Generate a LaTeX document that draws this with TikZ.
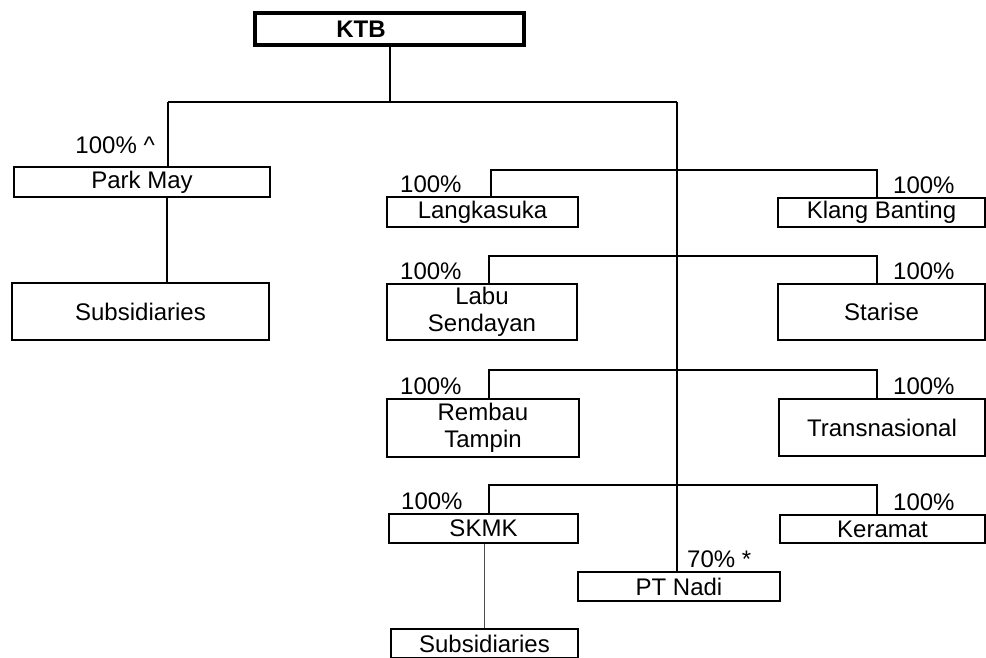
\documentclass[tikz,border=0pt]{standalone}
\usepackage{fontspec}
\setmainfont{Liberation Sans}
\begin{document}
\begin{tikzpicture}[x=1pt,y=-1pt,
  every node/.style={inner sep=0pt, font=\fontsize{24}{27}\selectfont},
  box/.style={draw, line width=1.3pt, rectangle, align=center},
  topbox/.style={draw, line width=3.5pt, rectangle, font=\fontsize{24}{27}\selectfont\bfseries},
  pct/.style={anchor=base west},
  link/.style={line width=1.3pt},
  thinlink/.style={line width=0.8pt, black!70}]
\useasboundingbox (0,0) rectangle (986,657);

% boxes
\node[topbox, minimum width=269pt, minimum height=32pt] (ktb) at (389.5,29) {KTB\kern57pt};
\node[box, minimum width=256pt, minimum height=30pt] (park) at (142,182) {Park May};
\node[box, minimum width=257pt, minimum height=57pt] (sub1) at (140.5,311.5) {Subsidiaries};
\node[box, minimum width=191pt, minimum height=30pt] (lang) at (482.5,212) {Langkasuka};
\node[box, minimum width=207pt, minimum height=29pt] (klang) at (881.5,212.5) {Klang Banting};
\node[box, minimum width=190pt, minimum height=56pt] (labu) at (482,312) {Labu\\Sendayan};
\node[box, minimum width=207pt, minimum height=56pt] (star) at (881.5,312) {Starise};
\node[box, minimum width=192pt, minimum height=58pt] (remb) at (483,428) {Rembau\\Tampin};
\node[box, minimum width=206pt, minimum height=57pt] (trans) at (882,427.5) {Transnasional};
\node[box, minimum width=189pt, minimum height=29pt] (skmk) at (483.5,528.5) {SKMK};
\node[box, minimum width=205pt, minimum height=28pt] (ker) at (882.5,529) {Keramat};
\node[box, minimum width=202pt, minimum height=29pt] (nadi) at (679,586.5) {PT Nadi};
\node[box, minimum width=187pt, minimum height=29pt] (sub2) at (484.5,643.5) {Subsidiaries};

% percentage labels
\node[anchor=base east] (lpark) at (155,153) {100\% \^{}};
\node[pct] (llang) at (400,192) {100\%};
\node[pct] (lklang) at (893,193) {100\%};
\node[pct] (llabu) at (400,279) {100\%};
\node[pct] (lstar) at (893,279) {100\%};
\node[pct] (lremb) at (400,394) {100\%};
\node[pct] (ltrans) at (893,394) {100\%};
\node[pct] (lskmk) at (401,509) {100\%};
\node[pct] (lker) at (893,510) {100\%};
\node[pct] (lnadi) at (687,567) {70\% *};

% connectors
\coordinate (hl) at (168,102);
\coordinate (hr) at (677,102);
\coordinate (hk) at (390,102);
\draw[link] (ktb.south -| hk) -- (hk);
\draw[link] (hl) -- (hr);
\draw[link] (hl) -- (hl |- park.north);
\draw[link] ([xshift=-1pt]hl |- park.south) -- ([xshift=-1pt]hl |- sub1.north);
\draw[link] (hr) -- (hr |- nadi.north);

\coordinate (r1l) at (491,170); \coordinate (r1r) at (877,170);
\coordinate (r2l) at (489,256); \coordinate (r2r) at (877,256);
\coordinate (r3l) at (489,370); \coordinate (r3r) at (877,370);
\coordinate (r4l) at (489,485); \coordinate (r4r) at (877,485);
\draw[link] (r1l |- lang.north) -- (r1l) -- (r1r) -- (r1r |- klang.north);
\draw[link] (r2l |- labu.north) -- (r2l) -- (r2r) -- (r2r |- star.north);
\draw[link] (r3l |- remb.north) -- (r3l) -- (r3r) -- (r3r |- trans.north);
\draw[link] (r4l |- skmk.north) -- (r4l) -- (r4r) -- (r4r |- ker.north);
\draw[thinlink] (skmk.south -| sub2.north) -- (sub2.north);
\end{tikzpicture}
\end{document}
